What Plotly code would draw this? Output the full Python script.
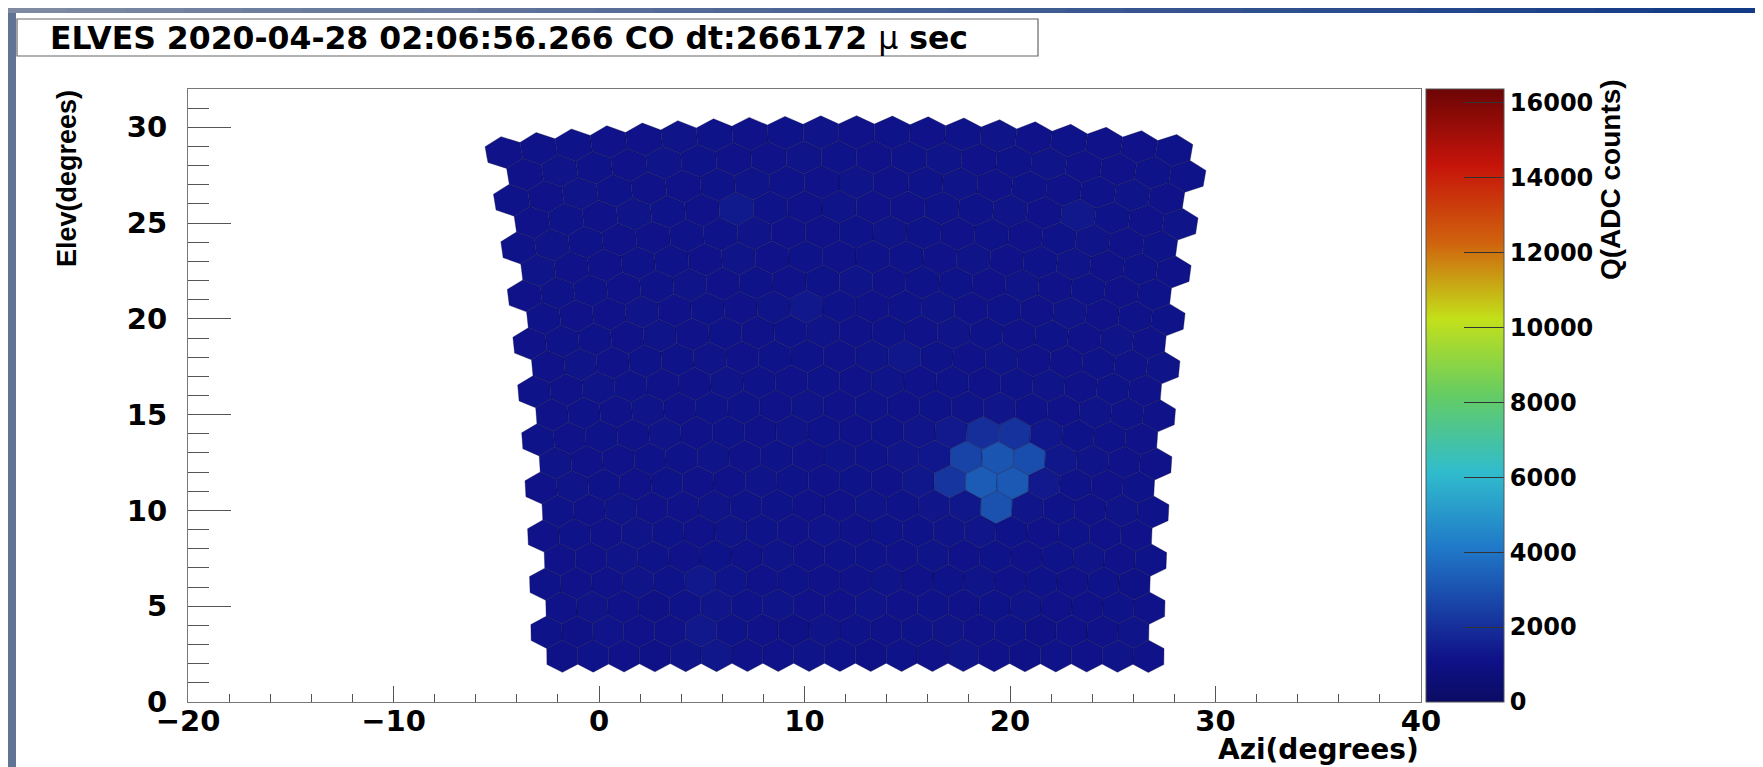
import numpy as np
import plotly.graph_objects as go
from plotly.colors import sample_colorscale

# ---------------- data ----------------
TITLE = "<b>ELVES 2020-04-28 02:06:56.266 CO dt:266172 </b>μ<b> sec</b>"
X_TITLE = "Azi(degrees)"
Y_TITLE = "Elev(degrees)"
Z_TITLE = "Q(ADC counts)"

X_RANGE = [-20, 40]
Y_RANGE = [0, 32]
X_TICKS = [-20, -10, 0, 10, 20, 30, 40]
Y_TICKS = [0, 5, 10, 15, 20, 25, 30]
Z_TICKS = [0, 2000, 4000, 6000, 8000, 10000, 12000, 14000, 16000]
Z_MAX = 16360

# camera geometry (20 columns x 22 rows of hexagonal pixels)
N_COLS = 20
N_ROWS = 22
PIXEL_PITCH = 1.5      # deg, flat-to-flat
AXIS_ELEV = 16.1       # deg, telescope axis elevation
AXIS_AZI = 12.1        # deg, telescope axis azimuth

# charge per pixel, row 0 = bottom row, column 0 = left
Q_ROWS = [
    [1120, 1180, 1150, 1090, 1210, 1300, 1160, 1130, 1200, 1170, 1110, 1190, 1140, 1230, 1160, 1100, 1180, 1150, 1210, 1130],
    [1170, 1100, 1220, 1160, 1130, 1330, 1190, 1150, 1120, 1200, 1180, 1140, 1170, 1210, 1150, 1190, 1120, 1160, 1140, 1200],
    [1140, 1210, 1160, 1120, 1190, 1230, 1170, 1200, 1150, 1130, 1220, 1160, 1190, 1140, 1180, 1210, 1150, 1130, 1170, 1160],
    [1190, 1150, 1130, 1200, 1170, 1320, 1220, 1140, 1180, 1160, 1150, 1200, 1130, 1170, 1210, 1160, 1190, 1140, 1180, 1120],
    [1160, 1130, 1200, 1170, 1150, 1190, 1160, 1210, 1140, 1180, 1170, 1130, 1200, 1160, 1190, 1150, 1170, 1210, 1130, 1180],
    [1130, 1190, 1150, 1210, 1180, 1140, 1200, 1170, 1160, 1220, 1140, 1190, 1170, 1210, 1260, 1180, 1150, 1190, 1160, 1140],
    [1180, 1140, 1210, 1150, 1130, 1200, 1170, 1190, 1150, 1160, 1210, 1180, 1260, 1300, 3000, 1250, 1190, 1150, 1200, 1170],
    [1150, 1200, 1170, 1140, 1190, 1160, 1130, 1210, 1180, 1150, 1190, 1160, 1300, 2200, 3300, 3200, 1350, 1180, 1140, 1190],
    [1200, 1160, 1140, 1190, 1170, 1210, 1150, 1180, 1140, 1200, 1170, 1230, 1280, 2600, 3100, 2900, 1300, 1200, 1160, 1150],
    [1170, 1130, 1190, 1160, 1200, 1150, 1180, 1140, 1210, 1170, 1160, 1190, 1230, 1350, 2000, 2100, 1280, 1170, 1190, 1130],
    [1140, 1180, 1160, 1200, 1130, 1170, 1190, 1150, 1200, 1160, 1180, 1140, 1170, 1210, 1260, 1190, 1150, 1200, 1170, 1160],
    [1190, 1150, 1210, 1170, 1160, 1140, 1200, 1180, 1130, 1190, 1150, 1210, 1160, 1180, 1140, 1170, 1200, 1150, 1190, 1140],
    [1160, 1200, 1140, 1180, 1190, 1210, 1150, 1170, 1190, 1140, 1200, 1300, 1180, 1150, 1210, 1160, 1130, 1190, 1170, 1200],
    [1130, 1170, 1190, 1150, 1200, 1160, 1180, 1140, 1170, 1210, 1160, 1190, 1150, 1200, 1170, 1140, 1180, 1160, 1210, 1150],
    [1180, 1140, 1160, 1210, 1150, 1180, 1140, 1200, 1320, 1170, 1150, 1180, 1210, 1160, 1190, 1150, 1200, 1140, 1170, 1190],
    [1150, 1190, 1170, 1140, 1180, 1200, 1160, 1190, 1150, 1180, 1210, 1140, 1170, 1190, 1150, 1200, 1160, 1180, 1140, 1170],
    [1200, 1160, 1130, 1190, 1170, 1150, 1210, 1140, 1180, 1160, 1190, 1170, 1140, 1200, 1160, 1180, 1210, 1150, 1190, 1160],
    [1170, 1210, 1180, 1150, 1140, 1190, 1170, 1200, 1160, 1150, 1180, 1200, 1170, 1140, 1190, 1160, 1170, 1200, 1150, 1180],
    [1140, 1180, 1150, 1200, 1190, 1160, 1400, 1170, 1140, 1210, 1160, 1150, 1190, 1180, 1200, 1140, 1330, 1170, 1160, 1200],
    [1190, 1150, 1200, 1170, 1160, 1140, 1190, 1210, 1170, 1150, 1200, 1160, 1180, 1210, 1140, 1190, 1160, 1180, 1200, 1150],
    [1160, 1200, 1170, 1140, 1210, 1180, 1150, 1160, 1200, 1190, 1140, 1170, 1210, 1150, 1180, 1200, 1160, 1140, 1190, 1170],
    [1130, 1170, 1190, 1160, 1150, 1200, 1180, 1140, 1170, 1210, 1160, 1190, 1150, 1170, 1200, 1140, 1180, 1160, 1150, 1190],
]

# ROOT-like rainbow palette as seen in the reference
COLORSCALE = [
    [0.000, "rgb(11,11,100)"],
    [0.070, "rgb(15,18,136)"],
    [0.125, "rgb(22,48,155)"],
    [0.250, "rgb(32,120,200)"],
    [0.375, "rgb(48,188,205)"],
    [0.500, "rgb(100,204,100)"],
    [0.625, "rgb(195,224,25)"],
    [0.750, "rgb(208,98,14)"],
    [0.875, "rgb(198,20,10)"],
    [1.000, "rgb(108,5,5)"],
]

# ---------------- page geometry ----------------
W, H = 1763, 767
PL, PR, PT, PB = 180, 1413, 81, 694   # plot frame in px


def px_x(px):
    return (px - PL) / (PR - PL)


def px_y(py):
    return (PB - py) / (PB - PT)


# ---------------- camera projection ----------------
def to_sky(u, v):
    """local camera angles (deg) -> (azimuth, elevation) in deg"""
    u = np.radians(u)
    ve = np.radians(v + AXIS_ELEV)
    elev = np.degrees(np.arcsin(np.cos(u) * np.sin(ve)))
    azi = AXIS_AZI + np.degrees(np.arctan2(np.sin(u), np.cos(u) * np.cos(ve)))
    return azi, elev


row_pitch = PIXEL_PITCH * np.sqrt(3) / 2
radius = PIXEL_PITCH / np.sqrt(3)
angles = np.radians(np.arange(30, 391, 60))

fig = go.Figure()
for r in range(N_ROWS):
    shift = PIXEL_PITCH / 4 if r % 2 == 0 else -PIXEL_PITCH / 4
    v0 = (r - (N_ROWS - 1) / 2) * row_pitch
    for c in range(N_COLS):
        u0 = (c - (N_COLS - 1) / 2) * PIXEL_PITCH + shift
        uu = u0 + radius * np.cos(angles)
        vv = v0 + radius * np.sin(angles)
        ax, ay = to_sky(uu, vv)
        q = Q_ROWS[r][c]
        col = sample_colorscale(COLORSCALE, [min(q / Z_MAX, 1.0)])[0]
        fig.add_trace(go.Scatter(
            x=ax, y=ay, mode="lines", fill="toself", fillcolor=col,
            line=dict(color="rgba(8,8,60,0.5)", width=0.7),
            hoverinfo="skip", showlegend=False))

BOLD_H = "DejaVu Sans"
BOLD_V = "Liberation Sans"
TICK_SIZE = 29

# colour bar carrier
fig.add_trace(go.Scatter(
    x=[-100, -100], y=[-100, -100], mode="markers",
    marker=dict(color=[0, Z_MAX], colorscale=COLORSCALE, cmin=0, cmax=Z_MAX,
                opacity=0, showscale=True,
                colorbar=dict(
                    x=px_x(1418), xanchor="left", xref="paper",
                    y=0.5, yanchor="middle", len=1, lenmode="fraction",
                    thickness=78, thicknessmode="pixels", xpad=0, ypad=0,
                    outlinewidth=1, outlinecolor="#555",
                    tickvals=Z_TICKS, tickformat="d", ticks="inside", ticklen=40,
                    tickwidth=1.2, tickcolor="#333",
                    tickfont=dict(family=BOLD_H, size=24, color="black", weight="bold"),
                )),
    hoverinfo="skip", showlegend=False))

axis_common = dict(
    showgrid=False, zeroline=False, showline=True, mirror=True,
    linecolor="#777", linewidth=1.2,
    ticks="inside", tickcolor="#555", tickwidth=1.2,
    tickfont=dict(family=BOLD_H, size=TICK_SIZE, color="black", weight="bold"),
)

fig.update_xaxes(range=X_RANGE, tickvals=X_TICKS, ticklen=16, ticklabelstandoff=-7,
                 minor=dict(dtick=2, ticklen=8, ticks="inside", tickcolor="#555", tickwidth=1.2, showgrid=False),
                 **axis_common)
fig.update_yaxes(range=Y_RANGE, tickvals=Y_TICKS, ticklen=43, ticklabelstandoff=14,
                 minor=dict(dtick=1, ticklen=21, ticks="inside", tickcolor="#555", tickwidth=1.2, showgrid=False),
                 **axis_common)

shapes = []
# slide frame strips (background of the screenshot)
shapes.append(dict(type="rect", xref="paper", yref="paper",
                   x0=px_x(0), x1=px_x(8), y0=px_y(H), y1=px_y(0),
                   fillcolor="rgb(98,116,150)", line=dict(width=0), layer="above"))
n_seg = 30
for i in range(n_seg):
    t = i / (n_seg - 1)
    rr = int(125 + (18 - 125) * t)
    gg = int(138 + (58 - 138) * t)
    bb = int(162 + (135 - 162) * t)
    shapes.append(dict(type="rect", xref="paper", yref="paper",
                       x0=px_x(i * W / n_seg), x1=px_x((i + 1) * W / n_seg + 1),
                       y0=px_y(5), y1=px_y(0),
                       fillcolor=f"rgb({rr},{gg},{bb})", line=dict(width=0), layer="above"))
# title box
shapes.append(dict(type="rect", xref="paper", yref="paper",
                   x0=px_x(9), x1=px_x(1030), y0=px_y(48), y1=px_y(11),
                   fillcolor="white", line=dict(color="#666", width=1.2)))

annotations = [
    dict(text=TITLE, xref="paper", yref="paper", x=px_x(40), y=px_y(30),
         xanchor="left", yanchor="middle", showarrow=False,
         font=dict(family=BOLD_H, size=31.5, color="black")),
    dict(text="<b>" + Y_TITLE + "</b>", xref="paper", yref="paper", x=px_x(59), y=px_y(171),
         xanchor="center", yanchor="middle", showarrow=False, textangle=-90,
         font=dict(family=BOLD_V, size=27, color="black")),
    dict(text="<b>" + X_TITLE + "</b>", xref="paper", yref="paper", x=1.0, y=px_y(741),
         xanchor="right", yanchor="middle", showarrow=False,
         font=dict(family=BOLD_H, size=28, color="black")),
    dict(text="<b>" + Z_TITLE + "</b>", xref="paper", yref="paper", x=px_x(1602), y=px_y(172),
         xanchor="center", yanchor="middle", showarrow=False, textangle=-90,
         font=dict(family=BOLD_V, size=28, color="black")),
]

fig.update_layout(
    width=W, height=H,
    margin=dict(l=PL, r=W - PR, t=PT, b=H - PB, autoexpand=False),
    paper_bgcolor="white", plot_bgcolor="white",
    shapes=shapes, annotations=annotations,
    showlegend=False,
)

fig.write_html("out.html")
